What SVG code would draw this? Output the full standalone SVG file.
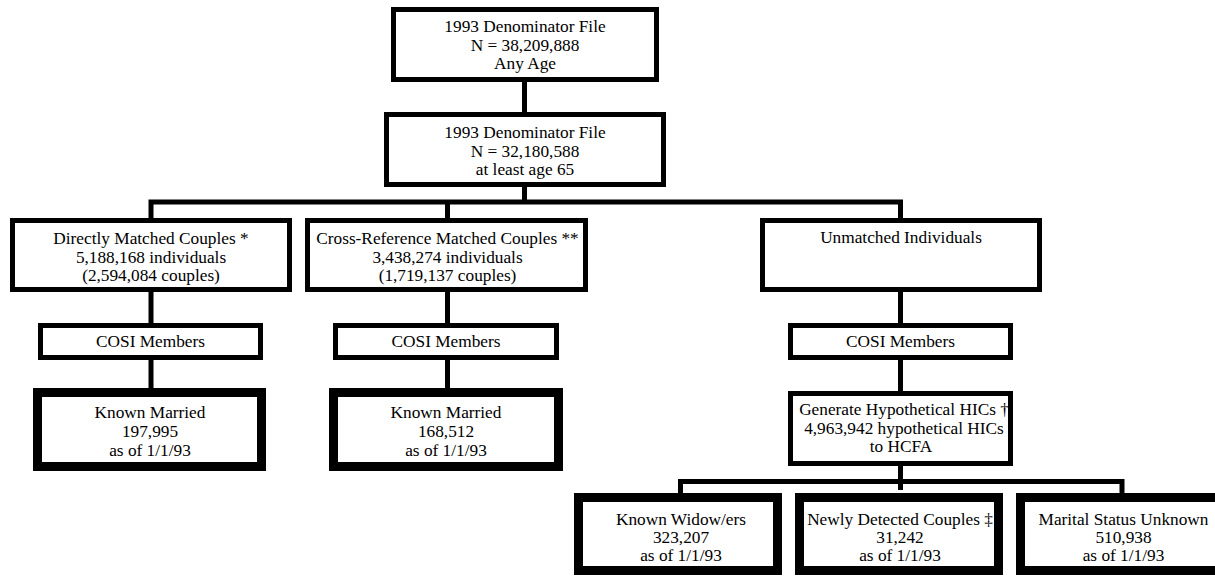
<svg xmlns="http://www.w3.org/2000/svg" width="1215" height="576" viewBox="0 0 1215 576">
<style>
.b{fill:#fff;stroke:#000;stroke-width:5}
.k{fill:#fff;stroke:#000;stroke-width:9}
.c{fill:none;stroke:#000;stroke-width:5}
text{font-family:"Liberation Serif","Times New Roman",serif;font-size:17.3px;fill:#000;text-anchor:middle}
</style>
<rect width="1215" height="576" fill="#fff"/>
<g id="connectors">
<path class="c" d="M524.5,80 V114"/>
<path class="c" d="M524.5,187 V202"/>
<path class="c" d="M151,221 V202 H900.5 V221"/>
<path class="c" d="M447.5,202 V221"/>
<path class="c" d="M151,290 V326 M447.5,290 V326 M900.5,290 V326"/>
<path class="c" d="M151,358 V393 M447.5,358 V393 M900.5,358 V394"/>
<path class="c" d="M900.5,464 V490"/>
<path class="c" d="M680.5,496 V481.5 H1122 V496"/>
</g>
<g id="n1"><rect class="b" x="393.5" y="9.5" width="263" height="70"/>
<text x="525" y="32">1993 Denominator File</text><text x="525" y="50.5">N = 38,209,888</text><text x="525" y="69">Any Age</text></g>
<g id="n2"><rect class="b" x="386.5" y="114.5" width="277" height="70"/>
<text x="525" y="138">1993 Denominator File</text><text x="525" y="156.5">N = 32,180,588</text><text x="525" y="175">at least age 65</text></g>
<g id="n3"><rect class="b" x="12.5" y="220.5" width="277" height="69"/>
<text x="151" y="244">Directly Matched Couples *</text><text x="151" y="262.5">5,188,168 individuals</text><text x="151" y="281">(2,594,084 couples)</text></g>
<g id="n4"><rect class="b" x="307.5" y="220.5" width="278" height="69"/>
<text x="447.5" y="244">Cross-Reference Matched Couples **</text><text x="447.5" y="262.5">3,438,274 individuals</text><text x="447.5" y="281">(1,719,137 couples)</text></g>
<g id="n5"><rect class="b" x="762.5" y="220.5" width="277" height="69"/>
<text x="901" y="243">Unmatched Individuals</text></g>
<g id="n6"><rect class="b" x="40.5" y="325.5" width="220" height="32"/><text x="150.5" y="347">COSI Members</text></g>
<g id="n7"><rect class="b" x="335.5" y="325.5" width="221" height="32"/><text x="446" y="347">COSI Members</text></g>
<g id="n8"><rect class="b" x="790.5" y="325.5" width="220" height="32"/><text x="900.5" y="347">COSI Members</text></g>
<g id="n9"><rect class="k" x="37.5" y="392.5" width="224" height="74"/>
<text x="150" y="418">Known Married</text><text x="150" y="437">197,995</text><text x="150" y="456">as of 1/1/93</text></g>
<g id="n10"><rect class="k" x="333.5" y="392.5" width="225" height="74"/>
<text x="446" y="418">Known Married</text><text x="446" y="437">168,512</text><text x="446" y="456">as of 1/1/93</text></g>
<g id="n11"><rect class="b" x="790.5" y="393.5" width="220" height="70"/>
<text x="904" y="415">Generate Hypothetical HICs †</text><text x="904" y="433.5">4,963,942 hypothetical HICs</text><text x="901" y="452">to HCFA</text></g>
<g id="n12"><rect class="k" x="578.5" y="497.5" width="199" height="73"/>
<text x="681" y="525">Known Widow/ers</text><text x="681" y="543">323,207</text><text x="681" y="561">as of 1/1/93</text></g>
<g id="n13"><rect class="k" x="799.5" y="497.5" width="199" height="73"/>
<text x="900" y="525">Newly Detected Couples ‡</text><text x="900" y="543">31,242</text><text x="900" y="561">as of 1/1/93</text></g>
<g id="n14"><rect class="k" x="1020.5" y="497.5" width="206" height="73"/>
<text x="1123.5" y="525">Marital Status Unknown</text><text x="1123.5" y="543">510,938</text><text x="1123.5" y="561">as of 1/1/93</text></g>
</svg>
